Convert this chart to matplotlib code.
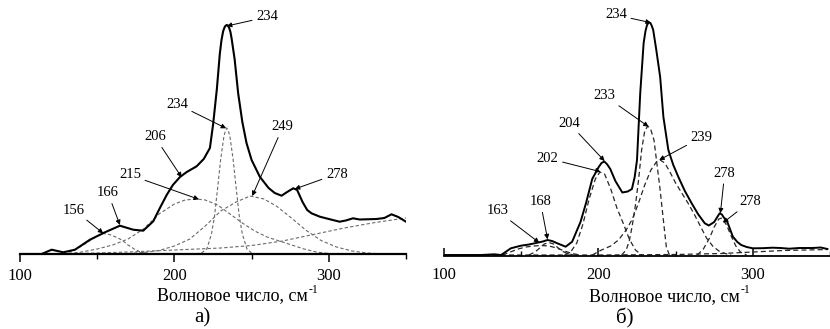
import matplotlib
matplotlib.use("Agg")
import matplotlib.pyplot as plt

plt.rcParams['font.family'] = ['Liberation Serif', 'DejaVu Serif']

# ---- panel a) : measured spectrum (solid) ----
a_x = [100, 114, 120.5, 128, 135.6, 145.3, 155, 164.7, 173.3, 179.8, 186.3, 190.6, 195, 199,
       203.6, 208, 214.4, 219, 223, 225.1, 227.5, 229.4, 230.5, 231.6, 232.7, 233.8, 234.6,
       235.5, 236.3, 237, 239, 241.3, 244, 246.7, 250, 255.3, 261, 265, 269.4, 273, 277,
       279.5, 283, 286, 288.8, 294.2, 300, 307, 311, 315.7, 320, 324.4, 330.9, 336, 340.6,
       345, 350]
a_y = [0, 0, 4.3, 1.7, 4.3, 14.3, 21.7, 28.3, 24.3, 23.3, 32.7, 46, 59, 69,
       77, 82, 87.7, 95, 106, 130, 165, 200, 214, 223, 227.5, 229, 228.5,
       226, 222, 216, 195, 160.7, 132, 111, 94, 77.3, 66, 61, 58.3, 62, 65.7,
       64, 52, 44, 40.7, 37.3, 35, 32.3, 33.5, 35.7, 34.5, 34.7, 35, 36, 39.7,
       37, 32.3]

# panel a) : fitted components (dashed)
a156_x = [128, 134, 140, 145, 150, 154, 158, 162, 166, 170, 174, 178, 182]
a156_y = [0, 3, 8, 13, 18, 20.5, 19.5, 17, 14, 9, 5, 2, 0.5]
a215_x = [128, 140, 150, 160, 170, 180, 190, 200, 207, 214, 220, 228, 236, 244, 252, 260,
          268, 276, 284, 292, 300]
a215_y = [0, 2, 5, 9, 15, 25, 40, 50, 54, 55, 54, 49, 40, 31, 23, 17, 13, 9, 5, 2, 0.5]
a234_x = [214, 218, 221, 224, 226, 228, 230, 232, 233, 234, 235, 236, 238, 240, 242, 244,
          247, 250, 254]
a234_y = [0, 1.5, 5, 20, 38, 66, 95, 117, 123, 126, 123, 117, 95, 66, 38, 20, 5, 1, 0]
a249_x = [170, 180, 190, 200, 210, 220, 230, 240, 249, 258, 266, 275, 285, 295, 305, 315, 325, 335]
a249_y = [0.5, 1.5, 3.5, 8, 15, 28, 43, 52, 58, 55, 48, 37, 24, 13.5, 7, 3, 1, 0]
abase_x = [128, 150, 170, 200, 230, 250, 270, 290, 310, 330, 350]
abase_y = [0, 1, 2, 4, 6, 8.5, 13, 19.5, 26, 31.5, 36]

# ---- panel б) : measured spectrum (solid) ----
b_x = [100, 124, 132.6, 137, 143.3, 149.8, 155, 160.5, 164, 167, 170, 173.4, 178.8, 183,
       188.4, 192, 196, 200.2, 202, 203.8, 205.5, 207.7, 211, 215.5, 219, 221.7, 223.5, 225,
       227.1, 229.3, 230.5, 231.5, 232.6, 233.7, 234.6, 235.5, 237.5, 240, 242.1, 245.3,
       248.5, 251.8, 256, 260.3, 264.5, 268.9, 271.5, 275, 277, 278.5, 280, 281, 283.5,
       287.1, 290, 292.5, 296, 300, 306, 312.9, 318, 323.6, 330, 338.6, 344, 348.3]
b_y = [0, 0, 0.7, 0, 6.7, 9.3, 10.5, 12.3, 13.5, 15, 14, 11.7, 8.3, 13.3,
       33, 52, 76, 88, 92, 93.5, 91, 86, 74, 62.5, 63.5, 66, 78, 95,
       162, 212, 224, 230, 232.5, 232, 229, 225, 205, 178, 138, 105,
       90, 78, 64, 52, 41, 31.7, 29.5, 33, 38, 41.7, 40.5, 38, 33,
       18.3, 13, 10, 8, 6.7, 6.8, 7.3, 7, 6.3, 7, 7, 7.5, 6]

# panel б) : fitted components (dashed)
b163_x = [138, 143, 148, 153, 158, 163, 168, 173, 178, 183, 188]
b163_y = [0, 3, 6, 8, 9, 9.5, 9, 7, 4, 1.5, 0]
b168_x = [155, 159, 162, 165, 168, 171, 174, 177, 180, 184]
b168_y = [0, 3, 7, 11, 12.5, 11, 7, 3.5, 1.5, 0]
b202_x = [178, 182, 186, 190, 194, 198, 201, 204, 208, 212, 216, 220, 224, 228]
b202_y = [0, 3, 12, 31, 56, 76, 83, 81, 66, 47, 32, 16, 5, 0]
b233_x = [215, 218, 220, 222, 224, 226, 228, 230, 232, 234, 236, 238, 240, 242, 244, 246]
b233_y = [0, 5, 14, 30, 50, 75, 105, 124, 129, 125, 115, 90, 65, 36, 8, 0]
b239_x = [196, 202, 208, 213, 218, 222, 226, 230, 234, 238, 240, 243, 246, 250, 254, 258,
          262, 266, 270, 274, 278, 282, 286]
b239_y = [0, 5, 9, 15, 25, 36, 52, 70, 85, 94, 95, 92, 84, 72, 62, 52, 41, 29, 17, 9, 4, 1.5, 0]
b278_x = [264, 268, 272, 275, 278, 280, 283, 286, 289, 292, 296]
b278_y = [0, 6, 17, 28, 36, 37, 30, 19, 9, 3, 0]
bbase_x = [100, 150, 200, 250, 280, 300, 320, 348.3]
bbase_y = [0, 0, 0, 0.5, 1.5, 3, 4.5, 5.5]

# peak labels: (text, point on curve, text position)
a_labels = [("234", (234, 228), (260, 237)),
            ("234", (233.5, 125.7), (201.6, 150)),
            ("249", (250.4, 58), (270.2, 127)),
            ("206", (204.7, 76.7), (187.4, 117)),
            ("215", (215.9, 54.7), (171.2, 79)),
            ("278", (278, 65), (305.2, 80)),
            ("166", (164.7, 29), (157, 61)),
            ("156", (153.9, 20.7), (135, 44))]
b_labels = [("234", (234, 232.3), (211.4, 240)),
            ("233", (232.5, 128.3), (204, 159.3)),
            ("204", (204, 94), (181, 131.7)),
            ("202", (201.4, 83.3), (167.1, 96.7)),
            ("239", (239.4, 95), (266.8, 117.7)),
            ("163", (161.7, 12.3), (134.5, 44.3)),
            ("168", (167.1, 15.7), (162.4, 53.3)),
            ("278", (279, 41.7), (281.8, 81.7)),
            ("278", (280.7, 32.3), (298.3, 53.3))]

tick_vals = [100, 200, 300]
minor_vals = [150, 250, 350]
xlabel = 'Волновое число, см'


def setup_axis(ax, tick_dir, spine_w):
    for s in ['top', 'right', 'left']:
        ax.spines[s].set_visible(False)
    ax.spines['bottom'].set_linewidth(spine_w)
    ax.set_yticks([])
    ax.set_xticks(tick_vals)
    ax.set_xticks(minor_vals, minor=True)
    ax.tick_params(axis='x', which='major', direction=tick_dir, length=6, width=1.1,
                   labelsize=12, pad=4 if tick_dir == 'out' else 8)
    ax.tick_params(axis='x', which='minor', direction=tick_dir, length=3.5, width=1.0)
    ax.patch.set_alpha(0)


def label_peaks(ax, labels):
    for txt, xy, xyt in labels:
        ax.annotate(txt, xy=xy, xytext=xyt, fontsize=10.5, ha='center', va='center',
                    arrowprops=dict(arrowstyle='-|>', color='k', lw=0.7,
                                    mutation_scale=7, shrinkA=1, shrinkB=0))


def axis_title(ax, xfrac, yfrac):
    # x label with a small raised "-1"
    t = ax.text(xfrac, yfrac, xlabel, transform=ax.transAxes, ha='center', va='center',
                fontsize=13)
    ax.annotate('-1', xy=(1, 1), xycoords=t, xytext=(0.5, -2), textcoords='offset points',
                ha='left', va='center', fontsize=8.5)


fig = plt.figure(figsize=(8.3, 3.29), dpi=100)

# panel a)
ax1 = fig.add_axes([20 / 830, 1 - 254 / 329, 386 / 830, 254 / 329])
dash_a = dict(color='#6a6a6a', lw=0.8, dashes=(3, 2))
for cx, cy in [(a156_x, a156_y), (a215_x, a215_y), (a234_x, a234_y),
               (a249_x, a249_y), (abase_x, abase_y)]:
    ax1.plot(cx, cy, **dash_a)
ax1.plot(a_x, a_y, color='k', lw=1.5)
ax1.set_xlim(100, 100 + 386 / 1.545)
ax1.set_ylim(0, 254)
setup_axis(ax1, 'out', 1.6)
label_peaks(ax1, a_labels)
axis_title(ax1, 0.55, -0.165)

# panel б)
ax2 = fig.add_axes([444 / 830, 1 - 256 / 329, 386 / 830, 256 / 329])
dash_b = dict(color='#262626', lw=0.9, dashes=(4, 2.5))
for cx, cy in [(b163_x, b163_y), (b168_x, b168_y), (b202_x, b202_y), (b233_x, b233_y),
               (b239_x, b239_y), (b278_x, b278_y), (bbase_x, bbase_y)]:
    ax2.plot(cx, cy, **dash_b)
ax2.plot(b_x, b_y, color='k', lw=1.4)
ax2.set_xlim(100, 100 + 386 / 1.555)
ax2.set_ylim(-1, 255)
setup_axis(ax2, 'in', 1.3)
label_peaks(ax2, b_labels)
axis_title(ax2, 0.571, -0.157)

fig.text(202.5 / 830, 1 - 318 / 329, 'а)', ha='center', va='center', fontsize=15)
fig.text(625 / 830, 1 - 318 / 329, 'б)', ha='center', va='center', fontsize=15)

fig.savefig('out.png', dpi=100)
